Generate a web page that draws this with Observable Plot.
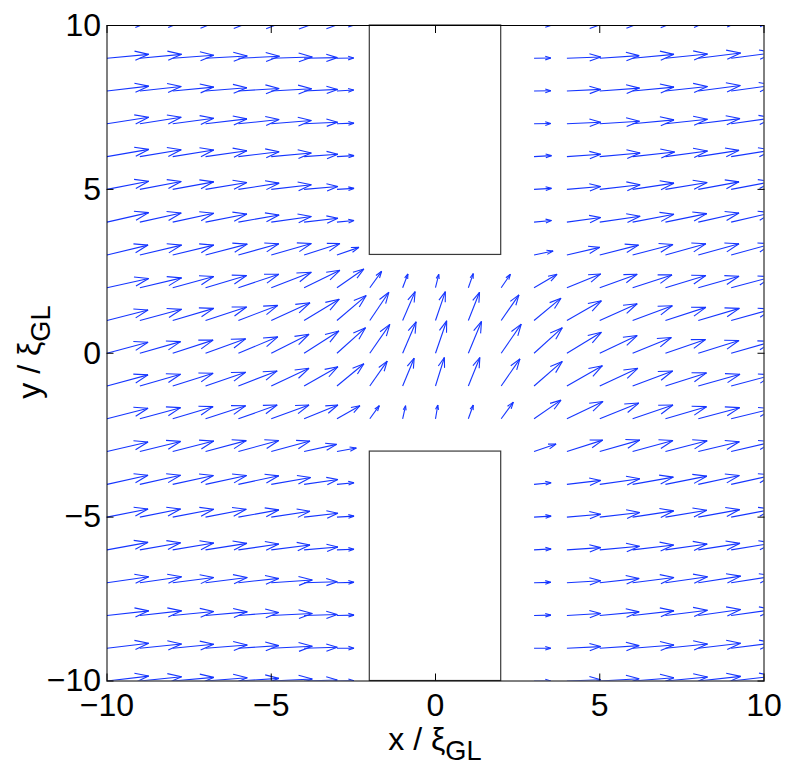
<!DOCTYPE html>
<html><head><meta charset="utf-8">
<script src="https://cdn.jsdelivr.net/npm/d3@7"></script>
<script src="https://cdn.jsdelivr.net/npm/@observablehq/plot@0.6"></script>
<style>body{margin:0;background:#fff}</style>
</head><body><div id="chart"></div>
<script>
// grid columns (x) and rows (y)
const gridX = [-10,-9,-8,-7,-6,-5,-4,-3,-2,-1,0,1,2,3,4,5,6,7,8,9,10];
const rowY = [10,9,8,7,6,5,4,3,2,1,0,-1,-2,-3,-4,-5,-6,-7,-8,-9,-10];
const _ = null;
// x-component of each arrow, row by row (null = no arrow, inside the walls)
const U = [
  [1.27,1.27,1.25,1.27,1.25,1.25,1.01,0.51, _,_,_,_,_, 0.51,1.03,1.20,1.26,1.28,1.29,1.29,1.29],
  [1.27,1.27,1.25,1.27,1.25,1.25,1.01,0.51, _,_,_,_,_, 0.51,1.03,1.20,1.26,1.28,1.29,1.29,1.29],
  [1.27,1.26,1.25,1.26,1.24,1.23,1.02,0.51, _,_,_,_,_, 0.51,1.03,1.21,1.26,1.28,1.28,1.28,1.28],
  [1.27,1.26,1.25,1.26,1.24,1.22,1.02,0.52, _,_,_,_,_, 0.51,1.03,1.21,1.26,1.28,1.27,1.27,1.27],
  [1.27,1.26,1.25,1.26,1.24,1.22,1.03,0.52, _,_,_,_,_, 0.53,1.03,1.23,1.28,1.28,1.24,1.25,1.25],
  [1.27,1.26,1.25,1.26,1.24,1.22,1.03,0.52, _,_,_,_,_, 0.53,1.03,1.23,1.26,1.27,1.24,1.25,1.25],
  [1.27,1.26,1.25,1.26,1.24,1.22,1.03,0.52, _,_,_,_,_, 0.53,1.03,1.23,1.26,1.26,1.24,1.25,1.25],
  [1.25,1.27,1.25,1.27,1.23,1.22,1.09,0.67, _,_,_,_,_, 0.58,1.00,1.18,1.23,1.23,1.24,1.25,1.25],
  [1.27,1.27,1.25,1.25,1.23,1.22,1.09,0.82,0.36,0.16,0.10,0.15,0.28,0.70,1.03,1.14,1.20,1.23,1.24,1.25,1.25],
  [1.25,1.27,1.25,1.25,1.20,1.18,1.07,0.89,0.58,0.38,0.30,0.34,0.54,0.82,1.05,1.14,1.21,1.23,1.25,1.26,1.26],
  [1.25,1.24,1.23,1.22,1.20,1.15,1.06,0.87,0.61,0.41,0.34,0.40,0.61,0.86,1.05,1.14,1.18,1.22,1.24,1.25,1.25],
  [1.25,1.24,1.23,1.22,1.18,1.15,1.03,0.82,0.53,0.35,0.27,0.35,0.57,0.86,1.08,1.16,1.22,1.25,1.27,1.27,1.27],
  [1.25,1.24,1.23,1.22,1.18,1.15,1.03,0.70,0.29,0.09,0.07,0.15,0.37,0.82,1.10,1.19,1.23,1.25,1.26,1.27,1.27],
  [1.25,1.24,1.25,1.24,1.23,1.18,0.99,0.59, _,_,_,_,_, 0.67,1.09,1.22,1.23,1.27,1.25,1.27,1.25],
  [1.25,1.24,1.24,1.25,1.23,1.20,1.03,0.52, _,_,_,_,_, 0.52,1.03,1.22,1.24,1.26,1.25,1.26,1.27],
  [1.25,1.24,1.25,1.24,1.23,1.18,1.03,0.52, _,_,_,_,_, 0.52,1.03,1.22,1.25,1.26,1.26,1.26,1.27],
  [1.25,1.24,1.25,1.26,1.23,1.18,1.03,0.52, _,_,_,_,_, 0.52,1.03,1.21,1.25,1.27,1.27,1.27,1.27],
  [1.27,1.27,1.25,1.27,1.23,1.25,1.01,0.52, _,_,_,_,_, 0.51,1.03,1.20,1.26,1.28,1.29,1.29,1.29],
  [1.27,1.27,1.25,1.27,1.23,1.25,1.01,0.52, _,_,_,_,_, 0.51,1.03,1.20,1.26,1.28,1.29,1.29,1.29],
  [1.27,1.27,1.25,1.27,1.23,1.25,1.01,0.52, _,_,_,_,_, 0.51,1.03,1.20,1.26,1.28,1.29,1.29,1.29],
  [1.27,1.27,1.25,1.27,1.23,1.25,1.01,0.52, _,_,_,_,_, 0.51,1.03,1.20,1.26,1.28,1.29,1.29,1.29]
];
// y-component of each arrow, row by row
const V = [
  [0.11,0.11,0.08,0.07,0.06,0.04,0.02,0.01, _,_,_,_,_, 0.00,0.03,0.07,0.10,0.12,0.14,0.15,0.16],
  [0.12,0.12,0.09,0.07,0.06,0.04,0.02,0.01, _,_,_,_,_, 0.01,0.04,0.08,0.12,0.13,0.16,0.17,0.17],
  [0.15,0.14,0.12,0.10,0.08,0.07,0.05,0.03, _,_,_,_,_, 0.01,0.05,0.09,0.12,0.14,0.17,0.18,0.18],
  [0.20,0.20,0.17,0.15,0.13,0.10,0.05,0.02, _,_,_,_,_, 0.01,0.05,0.08,0.12,0.14,0.16,0.18,0.19],
  [0.22,0.21,0.20,0.18,0.15,0.11,0.07,0.03, _,_,_,_,_, 0.03,0.07,0.11,0.14,0.17,0.19,0.20,0.21],
  [0.25,0.24,0.23,0.21,0.19,0.14,0.09,0.03, _,_,_,_,_, 0.03,0.09,0.14,0.19,0.21,0.23,0.24,0.25],
  [0.29,0.28,0.27,0.25,0.22,0.17,0.12,0.05, _,_,_,_,_, 0.05,0.14,0.18,0.24,0.26,0.28,0.29,0.30],
  [0.30,0.30,0.30,0.33,0.34,0.35,0.35,0.23, _,_,_,_,_, 0.12,0.23,0.30,0.32,0.34,0.34,0.34,0.34],
  [0.28,0.30,0.34,0.37,0.41,0.47,0.53,0.57,0.50,0.42,0.41,0.43,0.41,0.41,0.42,0.41,0.39,0.37,0.35,0.33,0.32],
  [0.32,0.34,0.37,0.41,0.46,0.54,0.65,0.76,0.86,0.88,0.88,0.86,0.78,0.68,0.60,0.51,0.45,0.40,0.37,0.35,0.34],
  [0.335,0.355,0.40,0.44,0.50,0.58,0.68,0.78,0.88,0.96,0.99,0.97,0.89,0.78,0.64,0.54,0.48,0.42,0.39,0.36,0.34],
  [0.34,0.36,0.39,0.42,0.46,0.54,0.59,0.68,0.76,0.85,0.87,0.87,0.83,0.75,0.62,0.54,0.46,0.40,0.36,0.34,0.33],
  [0.32,0.34,0.37,0.40,0.42,0.42,0.42,0.40,0.40,0.40,0.42,0.42,0.51,0.57,0.53,0.48,0.42,0.37,0.34,0.31,0.30],
  [0.29,0.31,0.32,0.335,0.34,0.32,0.22,0.11, _,_,_,_,_, 0.23,0.35,0.35,0.34,0.33,0.30,0.30,0.30],
  [0.28,0.28,0.27,0.27,0.26,0.21,0.15,0.05, _,_,_,_,_, 0.05,0.12,0.17,0.22,0.25,0.27,0.28,0.29],
  [0.25,0.25,0.24,0.24,0.22,0.18,0.12,0.03, _,_,_,_,_, 0.03,0.09,0.14,0.19,0.21,0.23,0.24,0.25],
  [0.23,0.22,0.21,0.20,0.18,0.15,0.09,0.02, _,_,_,_,_, 0.03,0.07,0.11,0.15,0.18,0.20,0.21,0.22],
  [0.18,0.18,0.16,0.16,0.13,0.08,0.03,0.01, _,_,_,_,_, 0.01,0.06,0.13,0.16,0.18,0.20,0.20,0.20],
  [0.14,0.14,0.12,0.11,0.09,0.06,0.03,0.01, _,_,_,_,_, 0.01,0.06,0.11,0.14,0.16,0.18,0.18,0.18],
  [0.15,0.13,0.12,0.10,0.08,0.06,0.03,0.00, _,_,_,_,_, 0.00,0.05,0.08,0.10,0.13,0.15,0.16,0.16],
  [0.15,0.13,0.11,0.10,0.08,0.06,0.03,0.01, _,_,_,_,_, 0.00,0.04,0.07,0.10,0.12,0.14,0.15,0.15]
];
// the two walls of the constriction
const wallX1 = [-2, -2];
const wallX2 = [2, 2];
const wallY1 = [3, -10];
const wallY2 = [10, -3];
const xTicks = [-10, -5, 0, 5, 10];
const yTicks = [-10, -5, 0, 5, 10];

// MATLAB-style quiver heads (alpha = beta = 0.33), computed in data space
const alpha = 0.33, beta = 0.33;
const segs = [];
rowY.forEach((y, i) => gridX.forEach((x, j) => {
  const u = U[i][j], v = V[i][j];
  if (u == null) return;
  const tx = x + u, ty = y + v;
  segs.push({x1: x, y1: y, x2: tx, y2: ty});
  segs.push({x1: tx - alpha * (u + beta * v), y1: ty - alpha * (v - beta * u), x2: tx, y2: ty});
  segs.push({x1: tx - alpha * (u - beta * v), y1: ty - alpha * (v + beta * u), x2: tx, y2: ty});
}));
const walls = wallX1.map((d, i) => ({x1: d, x2: wallX2[i], y1: wallY1[i], y2: wallY2[i]}));

const fs = 32;
const plot = Plot.plot({
  width: 789, height: 772,
  marginLeft: 106.5, marginRight: 25.5, marginTop: 25, marginBottom: 91.5,
  style: {fontFamily: "'Liberation Sans', Arial, sans-serif", fontSize: fs + "px", background: "white", color: "black"},
  x: {domain: [-10, 10]},
  y: {domain: [-10, 10]},
  marks: [
    Plot.link(segs, {x1: "x1", y1: "y1", x2: "x2", y2: "y2", stroke: "#1535ff", strokeWidth: 1.1, clip: true}),
    Plot.rect(walls, {x1: "x1", x2: "x2", y1: "y1", y2: "y2", fill: "white", stroke: "#3a3a3a", strokeWidth: 1.2}),
    Plot.axisX(xTicks, {anchor: "bottom", tickSize: 0, tickPadding: 12, label: null, fontSize: fs}),
    Plot.axisY(yTicks, {anchor: "left", tickSize: 0, tickPadding: 6, label: null, fontSize: fs}),
    Plot.axisX(xTicks, {anchor: "bottom", tickSize: -7, tickFormat: () => "", label: null}),
    Plot.axisX(xTicks, {anchor: "top", tickSize: -7, tickFormat: () => "", label: null}),
    Plot.axisY(yTicks, {anchor: "left", tickSize: -7, tickFormat: () => "", label: null}),
    Plot.axisY(yTicks, {anchor: "right", tickSize: -7, tickFormat: () => "", label: null}),
    Plot.frame({stroke: "black", strokeWidth: 1})
  ]
});
document.getElementById("chart").appendChild(plot);

// axis titles with subscripts
const svg = d3.select(plot);
const xt = svg.append("text").attr("x", 435).attr("y", 750).attr("text-anchor", "middle")
  .attr("font-size", fs).attr("fill", "black");
xt.append("tspan").text("x / ξ");
xt.append("tspan").attr("dy", 10).attr("font-size", fs * 0.85).text("GL");
const yt = svg.append("text").attr("transform", "translate(40,352) rotate(-90)").attr("text-anchor", "middle")
  .attr("font-size", fs).attr("fill", "black");
yt.append("tspan").text("y / ξ");
yt.append("tspan").attr("dy", 10).attr("font-size", fs * 0.85).text("GL");
</script>
</body></html>
